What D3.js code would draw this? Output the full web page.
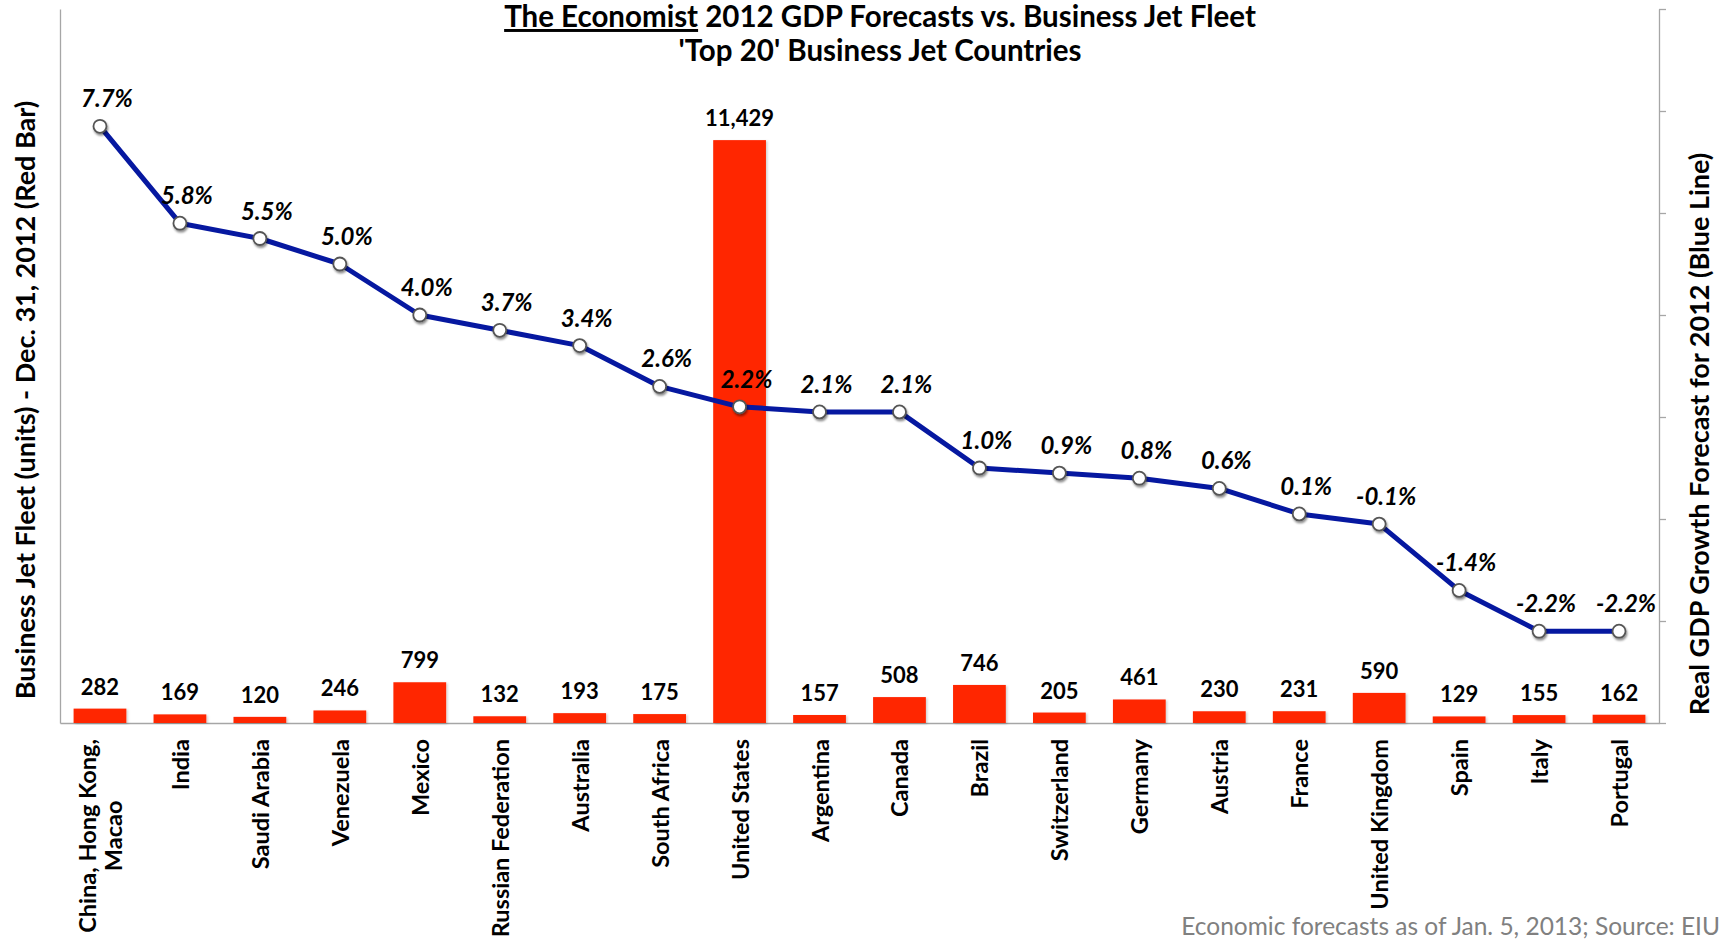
<!DOCTYPE html>
<html>
<head>
<meta charset="utf-8">
<script src="https://cdn.jsdelivr.net/npm/d3@7"></script>
<style>
  body { margin: 0; background: #fff; }
  text { font-family: Lato, Carlito, Calibri, sans-serif; }
</style>
</head>
<body>
<div id="paper"></div>
<script>

// data

const countries = ["China, Hong Kong, Macao", "India", "Saudi Arabia", "Venezuela", "Mexico",
    "Russian Federation", "Australia", "South Africa", "United States", "Argentina", "Canada",
    "Brazil", "Switzerland", "Germany", "Austria", "France", "United Kingdom", "Spain", "Italy", "Portugal"]
const fleet = [282, 169, 120, 246, 799, 132, 193, 175, 11429, 157, 508, 746, 205, 461, 230, 231, 590, 129, 155, 162]
const gdp = [7.7, 5.8, 5.5, 5.0, 4.0, 3.7, 3.4, 2.6, 2.2, 2.1, 2.1, 1.0, 0.9, 0.8, 0.6, 0.1, -0.1, -1.4, -2.2, -2.2]
const gdpTicks = [-4, -2, 0, 2, 4, 6, 8, 10]

const rows = countries.map((c, i) => ({country: c, fleet: fleet[i], gdp: gdp[i]}))

// svg

const W = 1723, H = 941
const plotLeft = 60, plotRight = 1659, plotTop = 9, plotBottom = 723

const svg = d3.select("#paper")
    .append("svg")
    .attr("id", "canvas")
    .attr("width", W)
    .attr("height", H)

const defs = svg.append("defs")
defs.append("filter").attr("id", "shadow")
    .attr("x", "-50%").attr("y", "-50%").attr("width", "200%").attr("height", "200%")
    .append("feDropShadow")
    .attr("dx", 1).attr("dy", 2).attr("stdDeviation", 1.3)
    .attr("flood-color", "#000").attr("flood-opacity", 0.45)
defs.append("filter").attr("id", "barshadow")
    .append("feDropShadow")
    .attr("dx", 1.5).attr("dy", 1).attr("stdDeviation", 0.8)
    .attr("flood-color", "#000").attr("flood-opacity", 0.18)

// scales

const x = d3.scaleBand().domain(countries).range([plotLeft, plotRight]).paddingInner(0.34).paddingOuter(0.17)
const yBar = d3.scaleLinear().domain([0, 14000]).range([plotBottom, plotTop])
const yGdp = d3.scaleLinear().domain([-4, 10]).range([plotBottom, plotTop])
const cx = d => x(d.country) + x.bandwidth() / 2

// axes (no labels, just lines)

svg.append("g")
    .attr("transform", `translate(${plotLeft},0)`)
    .call(d3.axisLeft(yBar).tickValues([]).tickSizeOuter(0))
    .call(g => g.select(".domain").attr("stroke", "#a6a6a6").attr("stroke-width", 1.3))

svg.append("g")
    .attr("transform", `translate(${plotRight},0)`)
    .call(d3.axisRight(yGdp).tickValues(gdpTicks).tickSize(7).tickSizeOuter(0).tickFormat(""))
    .call(g => g.select(".domain").attr("stroke", "#a6a6a6").attr("stroke-width", 1.3))
    .call(g => g.selectAll(".tick line").attr("stroke", "#a6a6a6").attr("stroke-width", 1.3))

svg.append("g")
    .attr("transform", `translate(0,${plotBottom})`)
    .call(d3.axisBottom(x).tickValues([]).tickSizeOuter(0))
    .call(g => g.select(".domain").attr("stroke", "#a6a6a6").attr("stroke-width", 1.5))

// bars

svg.append("g")
    .selectAll("rect")
    .data(rows)
    .join("rect")
    .attr("x", d => x(d.country))
    .attr("width", x.bandwidth())
    .attr("y", d => yBar(d.fleet))
    .attr("height", d => plotBottom - yBar(d.fleet))
    .attr("fill", "#ff2600")
    .attr("filter", "url(#barshadow)")

svg.append("g")
    .selectAll("text")
    .data(rows)
    .join("text")
    .attr("x", cx)
    .attr("y", d => yBar(d.fleet) - 14)
    .attr("text-anchor", "middle")
    .attr("font-weight", "bold")
    .attr("font-size", "22px")
    .attr("fill", "#000")
    .text(d => d3.format(",")(d.fleet))

// blue line

const line = d3.line().x(cx).y(d => yGdp(d.gdp))

svg.append("path")
    .datum(rows)
    .attr("d", line)
    .attr("fill", "none")
    .attr("stroke", "#0618a0")
    .attr("stroke-width", 5)
    .attr("stroke-linejoin", "round")

svg.append("g")
    .selectAll("circle")
    .data(rows)
    .join("circle")
    .attr("cx", cx)
    .attr("cy", d => yGdp(d.gdp))
    .attr("r", 6.5)
    .attr("fill", "#fff")
    .attr("stroke", "#555")
    .attr("stroke-width", 1.8)
    .attr("filter", "url(#shadow)")

svg.append("g")
    .selectAll("text")
    .data(rows)
    .join("text")
    .attr("x", d => cx(d) + 7)
    .attr("y", d => yGdp(d.gdp) - 19)
    .attr("text-anchor", "middle")
    .attr("font-weight", "bold")
    .attr("font-style", "italic")
    .attr("font-size", "24px")
    .text(d => d.gdp.toFixed(1) + "%")

// category labels, rotated

const labelTop = 739
const cats = svg.append("g")
    .selectAll("g")
    .data(rows)
    .join("g")
    .attr("transform", d => `translate(${cx(d)},${labelTop}) rotate(-90)`)

cats.each(function(d) {
    const g = d3.select(this)
    const parts = d.country === "China, Hong Kong, Macao" ? ["China, Hong Kong,", "Macao"] : [d.country]
    const t = parts.map((p, i) => g.append("text")
        .attr("y", (i - (parts.length - 1) / 2) * 26)
        .attr("dominant-baseline", "central")
        .attr("font-weight", "bold")
        .attr("font-size", "23.5px")
        .text(p))
    const len = d3.max(t, s => s.node().getComputedTextLength())
    t.forEach(s => s.attr("x", -len / 2).attr("text-anchor", "middle"))
})

// titles

const title = svg.append("text")
    .attr("x", 880)
    .attr("y", 27)
    .attr("text-anchor", "middle")
    .attr("font-weight", "bold")
    .attr("font-size", "29.5px")
title.append("tspan").attr("text-decoration", "underline").text("The Economist")
title.append("tspan").text(" 2012 GDP Forecasts vs. Business Jet Fleet")

svg.append("text")
    .attr("x", 880)
    .attr("y", 61)
    .attr("text-anchor", "middle")
    .attr("font-weight", "bold")
    .attr("font-size", "29.5px")
    .text("'Top 20' Business Jet Countries")

svg.append("text")
    .attr("transform", "translate(24,400) rotate(-90)")
    .attr("text-anchor", "middle")
    .attr("dominant-baseline", "central")
    .attr("font-weight", "bold")
    .attr("font-size", "27px")
    .text("Business Jet Fleet (units) - Dec. 31, 2012 (Red Bar)")

svg.append("text")
    .attr("transform", "translate(1698,434) rotate(-90)")
    .attr("text-anchor", "middle")
    .attr("dominant-baseline", "central")
    .attr("font-weight", "bold")
    .attr("font-size", "27px")
    .text("Real GDP Growth Forecast for 2012 (Blue Line)")

svg.append("text")
    .attr("x", 1720)
    .attr("y", 935)
    .attr("text-anchor", "end")
    .attr("font-size", "24.5px")
    .attr("fill", "#808080")
    .text("Economic forecasts as of Jan. 5, 2013; Source: EIU")

</script>
</body>
</html>
